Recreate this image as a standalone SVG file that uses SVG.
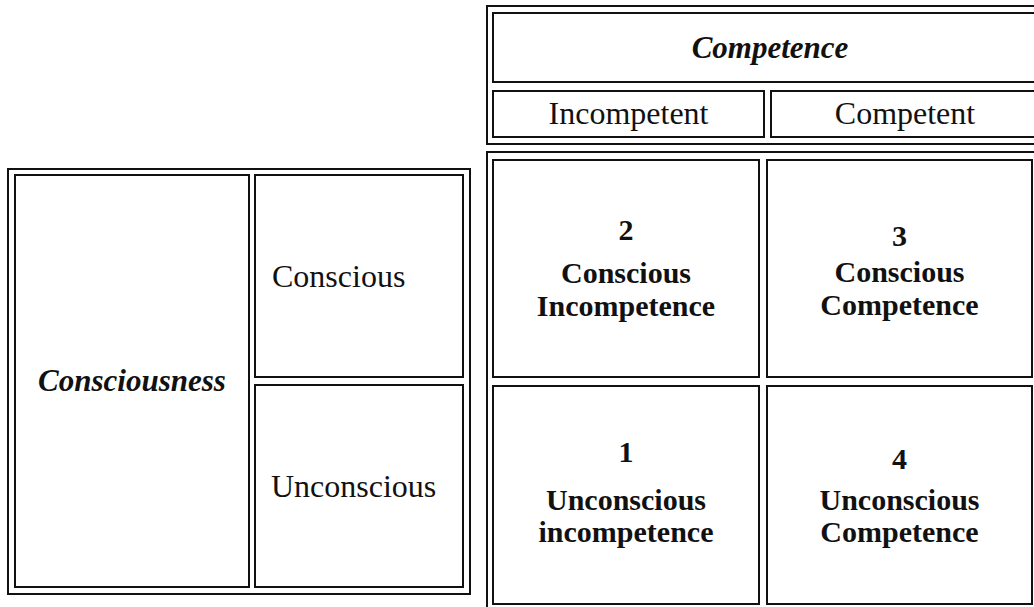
<svg xmlns="http://www.w3.org/2000/svg" width="1034" height="607" viewBox="0 0 1034 607">
<style>
.b{fill:none;stroke:#111;stroke-width:2}
.t{font-family:"Liberation Serif","Times New Roman",serif;fill:#111}
.r{font-size:32px}
.bd{font-size:30px;font-weight:bold}
.bi{font-size:31px;font-weight:bold;font-style:italic}
</style>
<rect x="0" y="0" width="1034" height="607" fill="#fff"/>
<g id="competence-table">
<rect class="b" x="487" y="6" width="559" height="138"/>
<g id="competence"><rect class="b" x="493" y="13" width="546" height="69"/><text class="t bi" x="770" y="58" text-anchor="middle">Competence</text></g>
<g id="incompetent"><rect class="b" x="493" y="91" width="271" height="46"/><text class="t r" x="628.5" y="124" text-anchor="middle">Incompetent</text></g>
<g id="competent"><rect class="b" x="771" y="91" width="268" height="46"/><text class="t r" x="905" y="124" text-anchor="middle">Competent</text></g>
</g>
<g id="consciousness-table">
<rect class="b" x="8" y="169" width="462" height="425"/>
<g id="consciousness"><rect class="b" x="15" y="175" width="234" height="412"/><text class="t bi" x="132" y="391" text-anchor="middle">Consciousness</text></g>
<g id="conscious"><rect class="b" x="255" y="175" width="208" height="202"/><text class="t r" x="272" y="287">Conscious</text></g>
<g id="unconscious"><rect class="b" x="255" y="385" width="208" height="202"/><text class="t r" x="271" y="497">Unconscious</text></g>
</g>
<g id="matrix">
<rect class="b" x="487" y="152" width="551" height="459"/>
<g id="q2"><rect class="b" x="493" y="160" width="266" height="217"/>
<text class="t bd" text-anchor="middle"><tspan x="626" y="240">2</tspan><tspan x="626" y="283">Conscious</tspan><tspan x="626" y="316">Incompetence</tspan></text></g>
<g id="q3"><rect class="b" x="767" y="160" width="265" height="217"/>
<text class="t bd" text-anchor="middle"><tspan x="899.5" y="246">3</tspan><tspan x="899.5" y="282">Conscious</tspan><tspan x="899.5" y="315">Competence</tspan></text></g>
<g id="q1"><rect class="b" x="493" y="386" width="266" height="218"/>
<text class="t bd" text-anchor="middle"><tspan x="626" y="462">1</tspan><tspan x="626" y="510">Unconscious</tspan><tspan x="626" y="542">incompetence</tspan></text></g>
<g id="q4"><rect class="b" x="767" y="386" width="265" height="218"/>
<text class="t bd" text-anchor="middle"><tspan x="899.5" y="469">4</tspan><tspan x="899.5" y="510">Unconscious</tspan><tspan x="899.5" y="542">Competence</tspan></text></g>
</g>
</svg>
